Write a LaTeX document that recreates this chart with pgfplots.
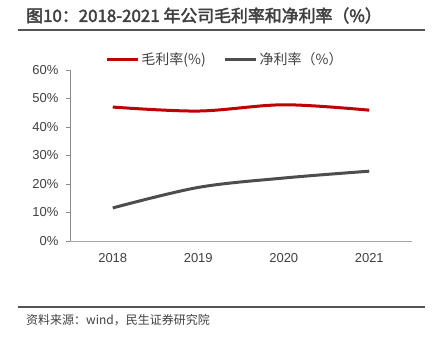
\documentclass[border=0pt]{standalone}
\usepackage{pgfplots}
\pgfplotsset{compat=1.18}
\usepackage{fontspec}
\setmainfont{Liberation Sans}
\newfontfamily\cjk[AutoFakeBold=2.5]{Noto Sans CJK SC}
\definecolor{myred}{HTML}{C00000}
\definecolor{mygray}{HTML}{4D4D4D}
\definecolor{txt}{HTML}{404040}
\begin{document}
\begin{tikzpicture}
\useasboundingbox (0pt,0pt) rectangle (435pt,337pt);
% title
\node[anchor=west,text=txt,font=\cjk\bfseries\fontsize{16.9}{18}\selectfont,inner sep=0] at (26pt,321.5pt) {图10：2018-2021 年公司毛利率和净利率（\%）};
\draw[color=txt!90,line width=1.6pt] (18pt,307pt) -- (425pt,307pt);
% footer
\draw[color=txt!90,line width=1.6pt] (18pt,30pt) -- (425pt,30pt);
\node[anchor=west,text=txt,font=\cjk\fontsize{12}{13}\selectfont,inner sep=0] at (26pt,17pt) {资料来源：wind，民生证券研究院};
\begin{axis}[
  at={(70pt,96pt)}, anchor=south west,
  scale only axis, width=342pt, height=171pt,
  xmin=-0.5, xmax=3.5, ymin=0, ymax=60,
  axis x line*=bottom, axis y line*=left,
  x axis line style={draw=gray!70, line width=0.8pt, -},
  y axis line style={draw=gray!110!black, line width=0.8pt, -},
  xtick={0,1,2,3}, xticklabels={2018,2019,2020,2021},
  major x tick style={draw=none},
  extra x ticks={-0.5,0.5,1.5,2.5,3.5}, extra x tick labels={},
  extra x tick style={major tick length=4pt, tick align=inside, tick style={draw=gray!70,line width=0.8pt}},
  ytick={0,10,20,30,40,50,60},
  yticklabel={\pgfmathprintnumber{\tick}\%},
  /pgf/number format/assume math mode=true,
  y tick style={draw=gray!110!black,line width=0.8pt},
  tick align=outside, major tick length=4pt,
  ticklabel style={font=\fontsize{13}{14}\selectfont, text=txt},
  xticklabel style={yshift=-5pt},
  yticklabel style={xshift=-4pt},
  legend style={at={(0.5,1)}, anchor=south, xshift=-16pt, yshift=0pt, draw=none, fill=none,
    font=\cjk\fontsize{14}{15}\selectfont, text=txt,
    /tikz/every even column/.append style={column sep=16pt}},
  legend columns=2,
  legend image code/.code={\draw[#1,line width=3pt] (0pt,0pt) -- (31pt,0pt);},
]
\addplot[myred, line width=3pt, smooth, tension=0.55] coordinates {(0,47.0) (1,45.6) (2,47.8) (3,45.9)};
\addlegendentry{毛利率(\%)}
\addplot[mygray, line width=3pt, smooth, tension=0.55] coordinates {(0,11.6) (1,18.8) (2,22.1) (3,24.5)};
\addlegendentry{净利率（\%）}
\end{axis}
\end{tikzpicture}
\end{document}
